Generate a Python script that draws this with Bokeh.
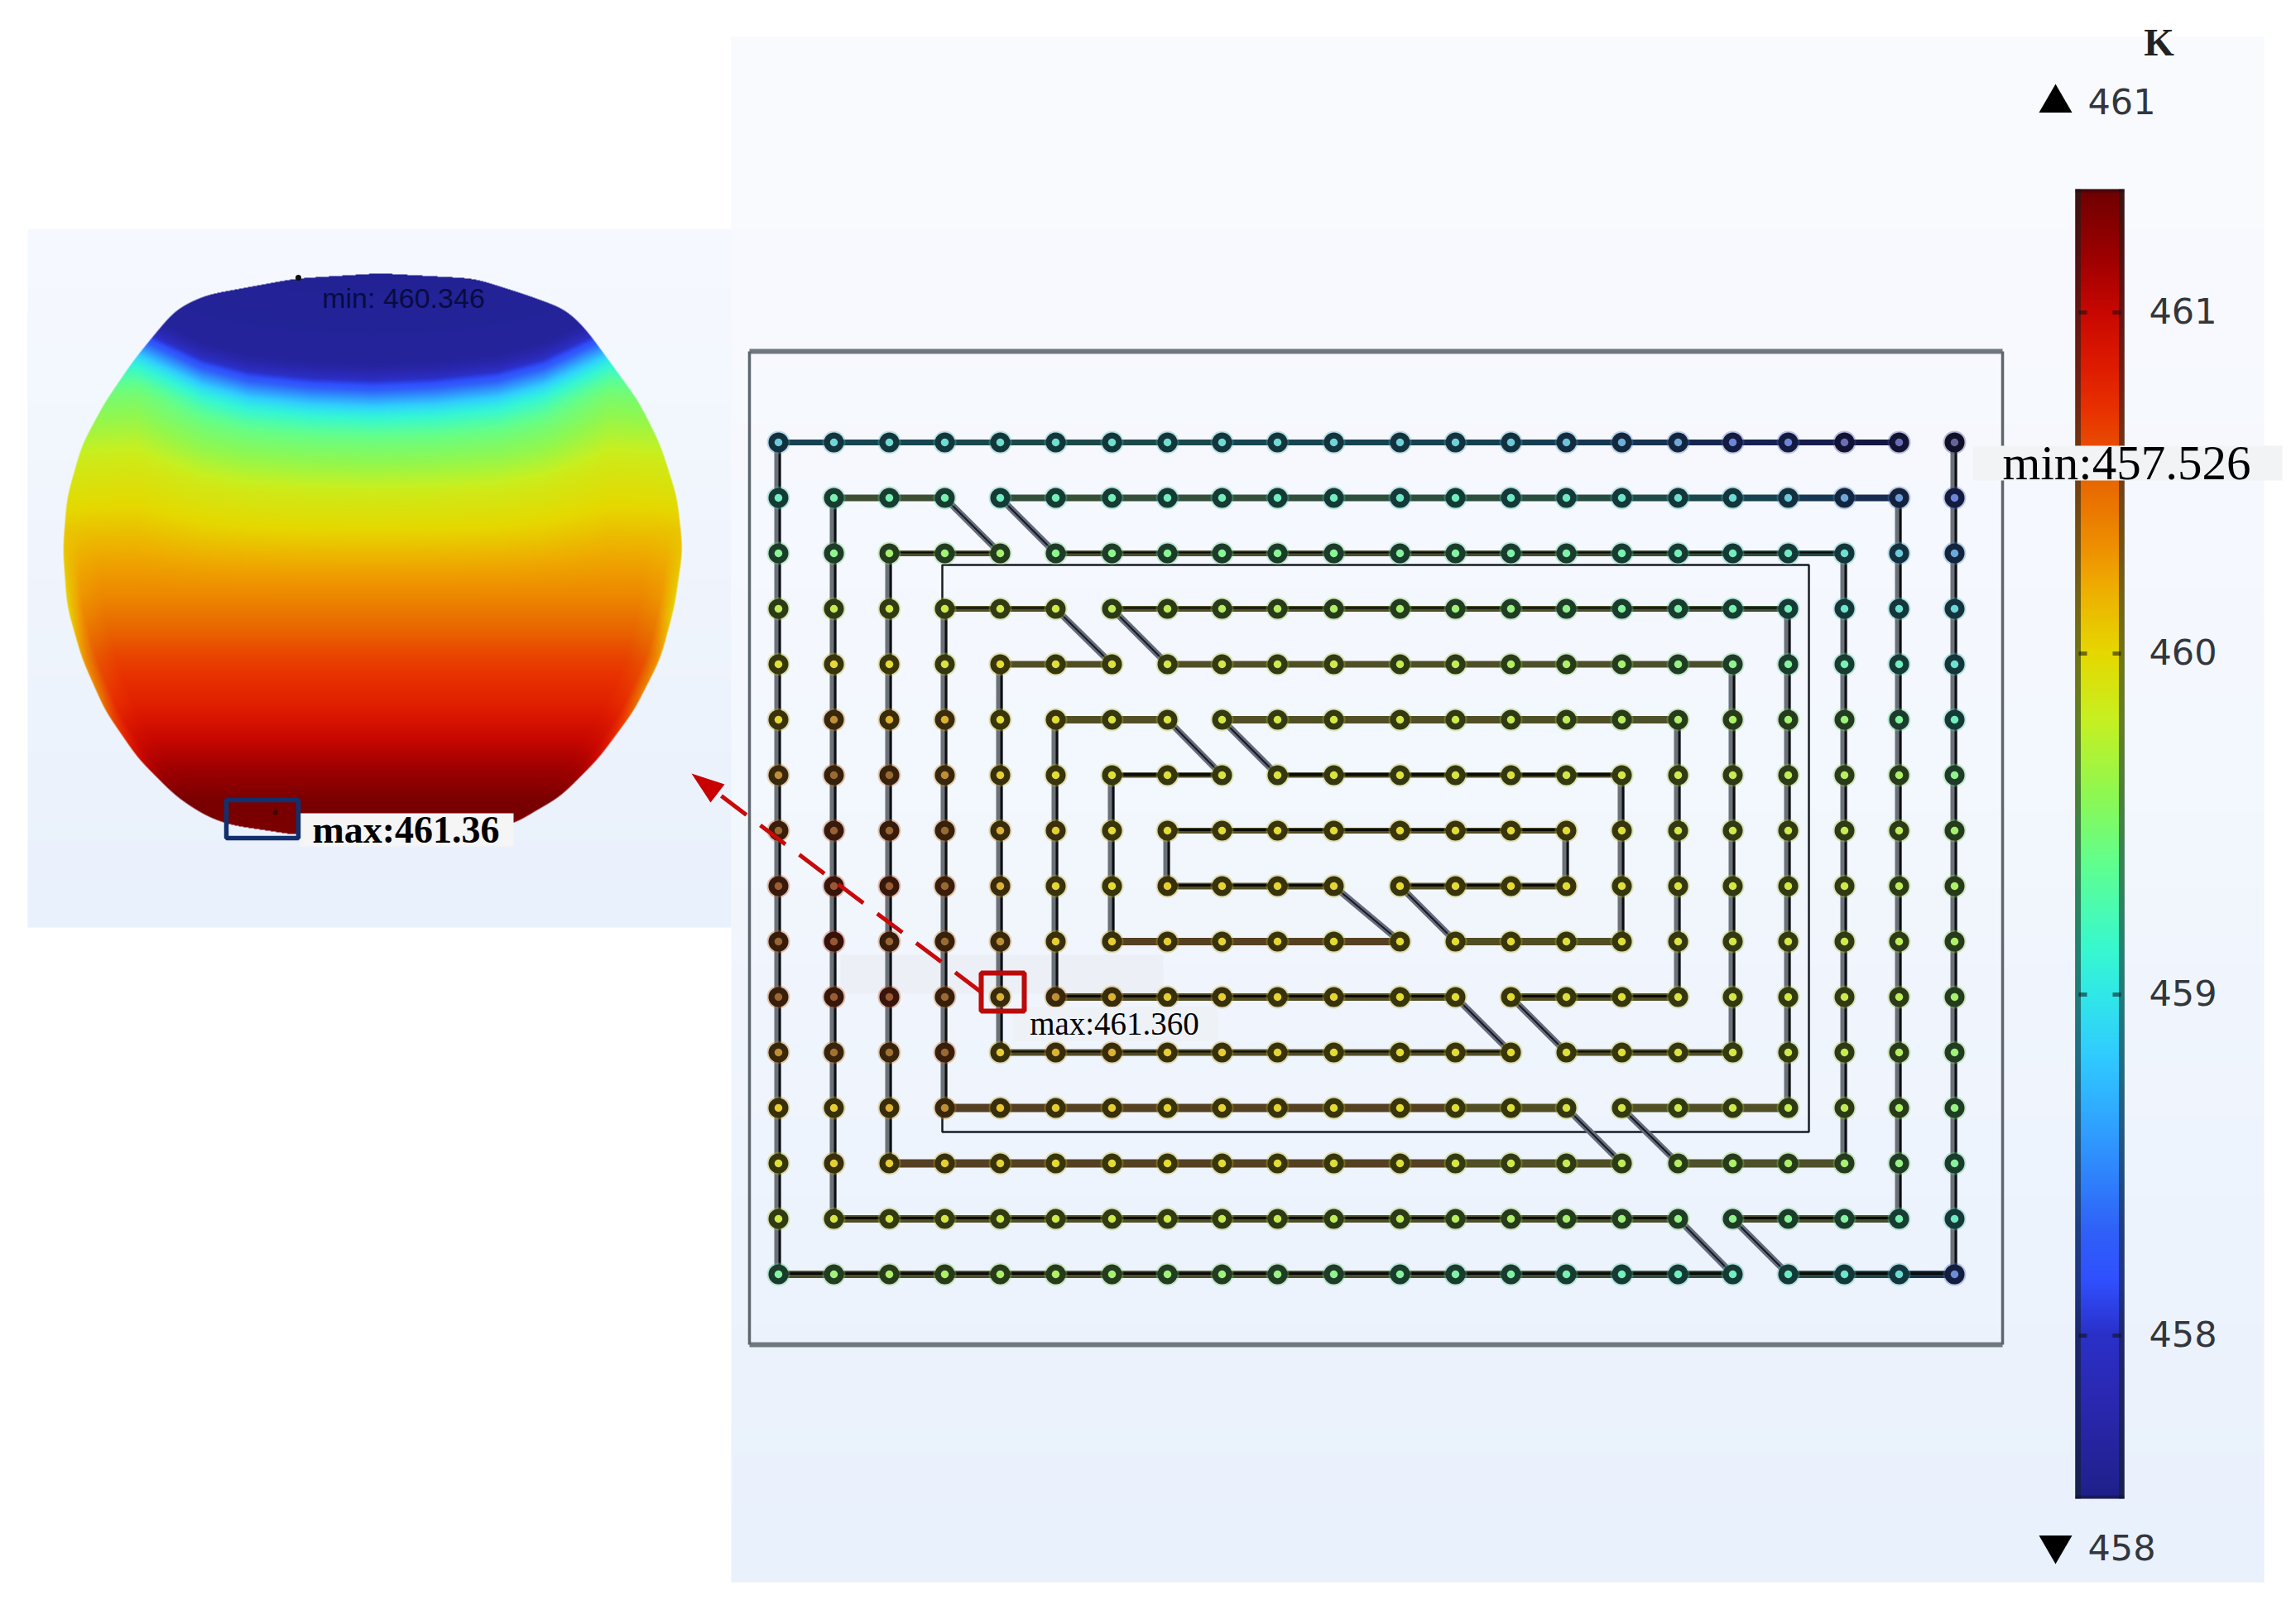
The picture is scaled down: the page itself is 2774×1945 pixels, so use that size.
import numpy as np
from bokeh.plotting import figure
from bokeh.embed import file_html
from bokeh.resources import INLINE
from bokeh.core.properties import value

# ---- values ----
colorbar_ticks = [458, 459, 460, 461]
colorbar_min, colorbar_max = 457.52, 461.36
color_T = [457.52, 457.8, 458.0, 458.16, 458.3, 458.6, 458.82, 459.0, 459.13, 459.38, 459.59, 459.81, 460.0, 460.18, 460.31, 460.5, 460.72, 460.85, 461.0, 461.15, 461.36]
color_hex = ["#20208a", "#2a28b0", "#2a30c8", "#3050ff", "#2f60f8", "#2f9fff", "#30ccff", "#30e8e8", "#38f8d0", "#60ff90", "#90f850", "#c8f020", "#e6d800", "#eeb000", "#ee9000", "#e86800", "#e83000", "#dd1a00", "#c80800", "#a00000", "#6f0000"]

col_x = [940, 1007, 1074, 1141, 1208, 1275, 1343, 1410, 1476, 1543, 1611, 1691, 1758, 1825, 1892, 1959, 2027, 2093, 2160, 2228, 2294, 2361]
row_y = [534, 601, 668, 735, 802, 869, 936, 1003, 1070, 1137, 1204, 1271, 1338, 1405, 1472, 1539]

runs_horizontal = [(0,0,20),(1,1,3),(1,4,20),(2,2,4),(2,5,19),(3,3,5),(3,6,18),(4,4,6),(4,7,17),(5,5,7),(5,8,16),
                   (6,6,8),(6,9,15),(7,7,14),(8,7,10),(8,11,14),(9,6,11),(9,12,15),(10,5,12),(10,13,16),(11,4,13),(11,14,17),
                   (12,3,14),(12,15,18),(13,2,15),(13,16,19),(14,1,16),(14,17,20),(15,0,17),(15,18,21)]
runs_vertical = [(0,0,15),(1,1,14),(2,2,13),(3,3,12),(4,4,11),(5,5,10),(6,6,9),(7,7,8),(14,7,8),(15,6,9),(16,5,10),(17,4,11),(18,3,12),(19,2,13),(20,1,14),(21,0,15)]
runs_diagonal = [(3,1),(4,1),(5,3),(6,3),(7,5),(8,5),(10,8),(11,8),(12,10),(13,10),(14,12),(15,12),(16,14),(17,14)]

T_grid = [
 [458.75,458.85,458.9,458.9,458.95,458.95,458.95,458.95,458.9,458.9,458.85,458.8,458.8,458.75,458.7,458.55,458.5,458.2,458.2,458.0,458.0,457.6],
 [459.1,459.2,459.2,459.2,459.1,459.15,459.15,459.1,459.15,459.1,459.1,459.05,459.1,459.05,459.05,459.0,458.95,458.9,458.75,458.5,458.4,458.2],
 [459.35,459.4,459.55,459.5,459.55,459.4,459.4,459.35,459.35,459.35,459.35,459.3,459.3,459.25,459.25,459.2,459.15,459.1,459.05,458.95,458.75,458.5],
 [459.7,459.75,459.8,459.8,459.8,459.8,459.7,459.7,459.65,459.65,459.6,459.55,459.5,459.45,459.4,459.3,459.25,459.2,459.15,459.0,458.95,458.85],
 [459.95,460.0,460.0,459.9,460.0,459.95,459.9,459.85,459.85,459.8,459.8,459.75,459.7,459.65,459.6,459.55,459.45,459.4,459.3,459.2,459.1,458.95],
 [460.05,460.3,460.2,460.2,460.0,460.0,459.9,459.9,459.85,459.85,459.85,459.85,459.8,459.75,459.7,459.65,459.6,459.6,459.55,459.5,459.3,459.1],
 [460.3,460.45,460.45,460.3,460.1,460.0,459.95,459.95,459.9,459.9,459.9,459.9,459.9,459.9,459.85,459.85,459.8,459.75,459.7,459.65,459.6,459.4],
 [460.5,460.6,460.55,460.45,460.2,460.1,460.0,460.0,460.0,460.0,460.0,460.0,460.0,460.0,460.0,459.95,459.85,459.8,459.8,459.75,459.7,459.55],
 [460.6,460.7,460.65,460.5,460.2,460.05,460.0,460.1,460.05,460.05,460.05,460.0,460.0,460.0,460.0,459.95,459.9,459.85,459.85,459.8,459.7,459.6],
 [460.55,460.75,460.55,460.45,460.3,460.1,460.1,460.1,460.05,460.05,460.0,460.0,460.0,460.0,459.95,459.95,459.9,459.85,459.85,459.8,459.7,459.6],
 [460.5,460.65,460.7,460.5,460.2,460.3,460.2,460.1,460.1,460.05,460.05,460.0,460.0,460.0,459.95,459.95,459.9,459.85,459.85,459.8,459.7,459.55],
 [460.3,460.4,460.4,460.5,460.1,460.2,460.2,460.1,460.1,460.05,460.0,460.0,460.0,460.0,459.95,459.95,459.9,459.85,459.8,459.75,459.65,459.5],
 [460.1,460.1,460.2,460.3,460.15,460.1,460.1,460.05,460.05,460.05,460.0,460.0,459.95,459.95,459.9,459.85,459.8,459.8,459.75,459.7,459.6,459.45],
 [459.95,460.1,460.1,460.1,460.05,460.0,460.0,460.0,460.0,460.0,459.95,459.95,459.85,459.8,459.75,459.7,459.65,459.6,459.6,459.55,459.45,459.3],
 [459.8,459.85,459.85,459.85,459.8,459.8,459.8,459.8,459.75,459.75,459.7,459.7,459.65,459.6,459.55,459.5,459.45,459.4,459.35,459.3,459.2,459.05],
 [459.3,459.5,459.6,459.6,459.6,459.6,459.55,459.5,459.5,459.45,459.4,459.3,459.25,459.25,459.2,459.15,459.1,459.1,459.05,459.0,458.9,458.3],
]
row_pipe_width = [7, 8, 7, 7, 8, 9, 6, 7, 8, 9, 9, 8, 10, 10, 9, 9]
row_core_width = [0, 0, 2, 2, 0, 0, 4, 3, 3, 0, 3, 2, 0, 0, 3, 3]
brown_rows = [9, 12, 13]

# sphere: temperature down its axis, bending of the isotherms towards the sides, cooler rim of the lower half
sphere_rows = [336, 442, 458, 482, 497, 526, 560, 594, 640, 681, 738, 795, 853, 893, 927, 968, 1013]
sphere_axis_T = [457.6, 457.65, 457.95, 458.6, 459.0, 459.4, 459.6, 459.85, 460.0, 460.2, 460.42, 460.65, 460.82, 461.0, 461.15, 461.32, 461.3]
bend_u = [0, 0.2, 0.4, 0.55, 0.68, 0.76, 0.9, 1.0]
bend_px = [0, 3, 11, 26, 49, 63, 60, 50]
rim_u = [0, 0.88, 0.95, 0.985, 1.0]
rim_drop = [0, 0, 0.08, 0.3, 0.42]
outline_left = [(453, 330), (356, 336), (247, 356), (212, 373), (192, 396), (161, 434), (126, 485), (98, 537), (80, 600), (75, 663), (80, 732), (98, 795), (126, 858), (166, 916), (212, 962), (247, 985), (276, 996), (356, 1008)]
outline_right = [(465, 330), (574, 336), (637, 356), (683, 373), (707, 396), (735, 434), (772, 485), (798, 537), (818, 600), (825, 663), (815, 732), (798, 795), (766, 858), (723, 916), (677, 962), (637, 985), (620, 996), (402, 1008)]

tick_labels = ["458", "459", "460", "461"]
label_top = "461"
label_bottom = "458"
unit = "K"
label_min_main = "min:457.526"
label_max_main = "max:461.360"
label_min_inset = "min: 460.346"
label_max_inset = "max:461.36"

# ---- helpers ----
stops_rgb = np.array([[int(h[i:i+2], 16) for i in (1, 3, 5)] for h in color_hex], float)

def cmap(t):
    t = np.asarray(t, float)
    return np.stack([np.interp(t, color_T, stops_rgb[:, k]) for k in range(3)], axis=-1)

def to_hex(rgb):
    r, g, b = [int(round(max(0, min(255, v)))) for v in rgb]
    return f"#{r:02x}{g:02x}{b:02x}"

def mix(rgb, other, w):
    return np.asarray(rgb, float) * (1 - w) + np.asarray(other, float) * w

def T_to_y(t):
    return 377 + (461 - t) * 412

def soften(a, n):
    a = np.asarray(a, float)
    pad = np.concatenate([np.repeat(a[:1], n, axis=0), a, np.repeat(a[-1:], n, axis=0)], axis=0)
    c = np.cumsum(pad, axis=0)
    return (c[2 * n:] - np.concatenate([np.zeros_like(c[:1]), c[:-2 * n - 1]], axis=0)) / (2 * n + 1)

def chain_x_of_y(chain, ys):
    pts = np.array(chain, float)
    s = np.concatenate([[0], np.cumsum(np.hypot(*np.diff(pts, axis=0).T))])
    t = np.arange(0, s[-1], 1.0)
    cx = soften(soften(np.interp(t, s, pts[:, 0]), 14), 14)
    cy = soften(soften(np.interp(t, s, pts[:, 1]), 14), 14)
    order = np.argsort(cy)
    return np.interp(ys, cy[order], cx[order], left=np.nan, right=np.nan), cy.min(), cy.max()

def rgba_image(rgb, alpha=None):
    h, w = rgb.shape[:2]
    out = np.zeros((h, w), dtype=np.uint32)
    view = out.view(dtype=np.uint8).reshape((h, w, 4))
    view[..., :3] = np.clip(rgb, 0, 255).astype(np.uint8)
    view[..., 3] = 255 if alpha is None else np.clip(alpha * 255, 0, 255).astype(np.uint8)
    return out

def vertical_gradient(n, colors):
    pos = np.linspace(0, n - 1, len(colors))
    c = np.array([[int(h[i:i+2], 16) for i in (1, 3, 5)] for h in colors], float)
    return np.stack([np.interp(np.arange(n), pos, c[:, k]) for k in range(3)], axis=-1)[:, None, :]

p = figure(width=2758, height=1929, x_range=(0, 2758), y_range=(1929, 0),
           output_backend="svg", toolbar_location=None, min_border=0,
           background_fill_color="#ffffff", border_fill_color="#ffffff")
p.axis.visible = False
p.grid.visible = False
p.outline_line_color = None

def put_image(rgb, alpha, x0, x1, y0, y1):
    img = rgba_image(rgb, alpha)
    # on this downward y range the image hangs from its anchor, first row on top
    p.image_rgba(image=[img], x=[x0], y=[y0], dw=[x1 - x0], dh=[y1 - y0])

# ---- panels ----
def gradient_panel(x0, x1, y0, y1, colors):
    n = y1 - y0
    put_image(vertical_gradient(n, colors), None, x0, x1, y0, y1)

gradient_panel(883, 2735, 44, 1911, ["#fafbff", "#f3f7fe", "#e9f1fc"])
gradient_panel(33, 883, 276, 1120, ["#f6f9ff", "#f0f5fd", "#e9f1fc"])

# ---- sphere ----
sx0, sx1, sy0, sy1 = 70, 830, 325, 1015
sphere_cx, sphere_r = 450, 375
ys = np.arange(sy0, sy1) + 0.5
xs = np.arange(sx0, sx1) + 0.5
xl, ytop, ybot = chain_x_of_y(outline_left, ys)
xr, _, _ = chain_x_of_y(outline_right, ys)
axis_y = np.arange(sy0 - 120, sy1 + 1.0)
axis_T = soften(np.interp(axis_y, sphere_rows, sphere_axis_T), 8)
field = np.zeros((len(ys), len(xs)))
alpha = np.zeros_like(field)
bend = np.interp(np.abs(xs - sphere_cx) / sphere_r, bend_u, bend_px)
for i, y in enumerate(ys):
    if np.isnan(xl[i]) or np.isnan(xr[i]):
        continue
    fade_top = np.clip((720 - y) / 240, 0, 1)
    fade_rim = np.clip((y - 640) / 100, 0, 1) * np.clip((960 - y) / 120, 0, 1)
    cx = (xl[i] + xr[i]) / 2
    hw = max((xr[i] - xl[i]) / 2, 1)
    u = np.abs(xs - cx) / hw
    field[i] = np.interp(y + bend * fade_top, axis_y, axis_T) - np.interp(u, rim_u, rim_drop) * fade_rim
    alpha[i] = np.clip(xs - xl[i], 0, 1) * np.clip(xr[i] - xs, 0, 1)
put_image(cmap(field), alpha, sx0, sx1, sy0, sy1)
p.scatter(x=[360, 332], y=[335, 981], size=[7, 6], color=["#101010", "#400000"], line_color=None)
p.text(x=[487], y=[359], text=[label_min_inset], text_font=value("Liberation Sans"), text_font_size="34px",
       text_color="#080c40", text_align="center", text_baseline="middle")

# ---- frames behind the coil ----
p.quad(left=[1015], right=[1405], top=[1153], bottom=[1200], fill_color="#eceff5", line_color=None)
p.multi_line(xs=[[905, 2419], [905, 2419]], ys=[[424, 424], [1624, 1624]], line_color="#70787f", line_width=6)
p.multi_line(xs=[[905, 905], [2419, 2419]], ys=[[424, 1624], [424, 1624]], line_color="#5f666e", line_width=3.5)
p.quad(left=[1138], right=[2185], top=[682], bottom=[1367], fill_color=None, line_color="#181c24", line_width=2.5)

# ---- coil pipes ----
grid = np.array(T_grid)
dark = [12, 12, 14]
olive = [84, 80, 42]
brown = [88, 64, 40]

seg_x, seg_y, seg_c, seg_w = [], [], [], []
core_x, core_y, core_w = [], [], []
for r, c0, c1 in runs_horizontal:
    for c in range(c0, c1):
        t = (grid[r, c] + grid[r, c + 1]) / 2
        base = mix(cmap(t), dark, 0.72)
        tint = brown if (r in brown_rows and c < 12) else olive
        seg_x.append([col_x[c], col_x[c + 1]])
        seg_y.append([row_y[r], row_y[r]])
        seg_c.append(to_hex(mix(base, tint, float(np.clip((t - 458.9) / 0.4, 0, 1)) * 0.8)))
        seg_w.append(row_pipe_width[r])
    if row_core_width[r]:
        core_x.append([col_x[c0], col_x[c1]])
        core_y.append([row_y[r] - 1, row_y[r] - 1])
        core_w.append(row_core_width[r])
p.multi_line(xs=seg_x, ys=seg_y, line_color=seg_c, line_width=seg_w)
p.multi_line(xs=core_x, ys=core_y, line_color="#0a0a08", line_width=core_w)

vx = [[col_x[c] - 1, col_x[c] - 1] for c, r0, r1 in runs_vertical]
vy = [[row_y[r0], row_y[r1]] for c, r0, r1 in runs_vertical]
vcx = [[col_x[c] + 1.5, col_x[c] + 1.5] for c, r0, r1 in runs_vertical]
p.multi_line(xs=vx, ys=vy, line_color="#6b7179", line_width=8)
p.multi_line(xs=vcx, ys=vy, line_color="#0c0e12", line_width=3)

dx = [[col_x[c], col_x[c + 1]] for c, r in runs_diagonal]
dy = [[row_y[r], row_y[r + 1]] for c, r in runs_diagonal]
p.multi_line(xs=dx, ys=dy, line_color="#666c7c", line_width=8)
p.multi_line(xs=dx, ys=dy, line_color="#141824", line_width=2)

# ---- coil nodes ----
nodes = set()
for r, c0, c1 in runs_horizontal:
    nodes.update((c, r) for c in range(c0, c1 + 1))
for c, r0, r1 in runs_vertical:
    nodes.update((c, r) for r in range(r0, r1 + 1))
nodes = sorted(nodes)
nx = [col_x[c] for c, r in nodes]
ny = [row_y[r] for c, r in nodes]
nT = [grid[r, c] for c, r in nodes]
nrgb = [cmap(t) for t in nT]
centres = [to_hex(mix(mix(v, [225, 225, 150], 0.35), [90, 70, 50], float(np.clip((t - 460.15) / 0.5, 0, 0.55)))) for v, t in zip(nrgb, nT)]
p.scatter(x=nx, y=ny, size=28, color=[to_hex(mix(v, [120, 120, 90], 0.4)) for v in nrgb], line_color=None, alpha=0.35)
p.scatter(x=nx, y=ny, size=24, color=[to_hex(mix(v, dark, 0.8)) for v in nrgb], line_color=None)
p.scatter(x=nx, y=ny, size=9.5, color=centres, line_color=None)

# ---- colour bar ----
bx0, bx1 = 2507, 2566
by0, by1 = int(T_to_y(colorbar_max)), int(T_to_y(colorbar_min))
bar_t = colorbar_max - (np.arange(by0, by1) + 0.5 - by0) / (by1 - by0) * (colorbar_max - colorbar_min)
put_image(cmap(bar_t)[:, None, :], None, bx0, bx1, by0, by1)
p.multi_line(xs=[[bx0 + 3, bx0 + 3], [bx1 - 3, bx1 - 3]], ys=[[by0, by1], [by0, by1]], line_color="#102020", line_width=7, line_alpha=0.55)
p.multi_line(xs=[[bx0, bx1]] * 2, ys=[[by0 + 2, by0 + 2], [by1 - 2, by1 - 2]], line_color="#101020", line_width=4, line_alpha=0.4)
tick_y = [T_to_y(t) for t in colorbar_ticks]
p.multi_line(xs=[[bx0 + 4, bx0 + 14] for _ in tick_y] + [[bx1 - 14, bx1 - 4] for _ in tick_y],
             ys=[[y, y] for y in tick_y] * 2, line_color="#101010", line_width=5, line_alpha=0.55)
p.text(x=[2637] * 4, y=[y - 2 for y in tick_y], text=tick_labels, text_font=value("DejaVu Sans"), text_font_size="43px",
       text_color="#33363c", text_align="center", text_baseline="middle")
p.text(x=[2563, 2563], y=[122, 1869], text=[label_top, label_bottom], text_font=value("DejaVu Sans"), text_font_size="43px",
       text_color="#33363c", text_align="center", text_baseline="middle")
p.scatter(x=[2483], y=[124], marker="triangle", size=40, color="#000000", line_color=None)
p.scatter(x=[2483], y=[1866], marker="inverted_triangle", size=40, color="#000000", line_color=None)
p.text(x=[2608], y=[50], text=[unit], text_font=value("Liberation Serif"), text_font_style="bold", text_font_size="47px",
       text_color="#222222", text_align="center", text_baseline="middle")

# ---- labels with boxes ----
p.quad(left=[2383], right=[2757], top=[538], bottom=[580], fill_color="#f2f3f4", line_color=None)
p.text(x=[2569], y=[558], text=[label_min_main], text_font=value("Liberation Serif"), text_font_size="59px",
       text_color="#000000", text_align="center", text_baseline="middle")
p.quad(left=[1223], right=[1471], top=[1216], bottom=[1257], fill_color="#eef1f6", line_color=None)
p.text(x=[1346], y=[1236], text=[label_max_main], text_font=value("Liberation Serif"), text_font_size="39px",
       text_color="#000000", text_align="center", text_baseline="middle")
p.quad(left=[362], right=[620], top=[982], bottom=[1022], fill_color="#f5f5f5", line_color=None)
p.text(x=[490], y=[1002], text=[label_max_inset], text_font=value("Liberation Serif"), text_font_style="bold", text_font_size="46px",
       text_color="#000000", text_align="center", text_baseline="middle")

# ---- markers and arrow ----
p.quad(left=[273], right=[360], top=[966], bottom=[1012], fill_color=None, line_color="#12306e", line_width=5.5)
p.quad(left=[1185], right=[1237], top=[1175], bottom=[1221], fill_color=None, line_color="#bb0a0a", line_width=6)
p.line(x=[871, 1185], y=[961, 1198], line_color="#c80a0a", line_width=5, line_dash="38 21")
p.patch(x=[835, 875, 858], y=[934, 947, 969], fill_color="#c80000", line_color=None)

open("out.html", "w").write(file_html(p, INLINE))
